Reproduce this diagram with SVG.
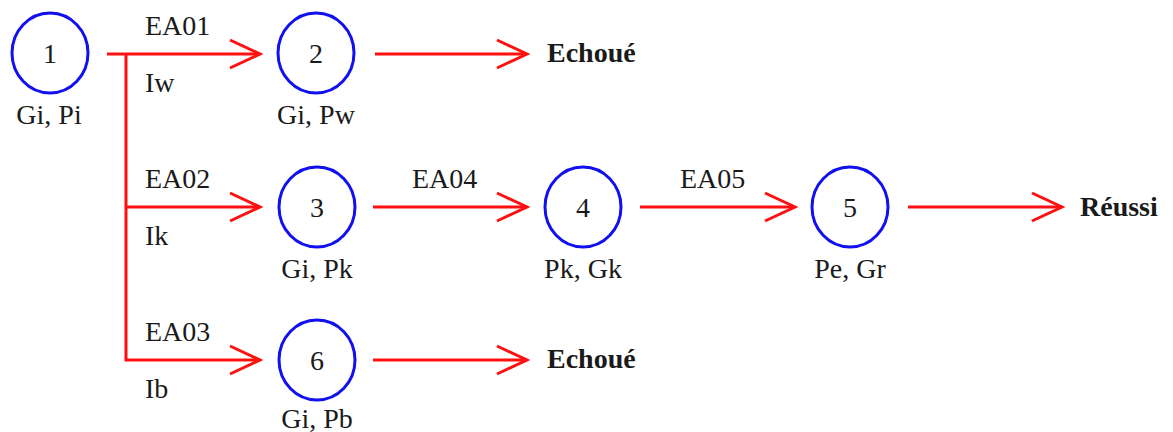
<svg xmlns="http://www.w3.org/2000/svg" width="1173" height="432" viewBox="0 0 1173 432">
<style>
.n{fill:none;stroke:#1010f0;stroke-width:3}
.c{fill:none;stroke:#ff1010;stroke-width:3;stroke-linejoin:miter}
text{font-family:'Liberation Serif','Times New Roman',Times,'DejaVu Serif',serif;font-size:28px;fill:#1a1a1a}
.m{text-anchor:middle}
.b{font-weight:bold;font-size:28px}
</style>
<defs>
<marker id="arr" viewBox="0 0 34 32" refX="31" refY="16" markerWidth="34" markerHeight="32" markerUnits="userSpaceOnUse" orient="auto">
<path d="M1,2 L31,16 L1,30" fill="none" stroke="#ff1010" stroke-width="3"/>
</marker>
</defs>
<rect width="1173" height="432" fill="#fff"/>
<g id="connectors">
<path class="c" d="M107,54 H260" marker-end="url(#arr)"/>
<path class="c" d="M126,54 V360 H260" marker-end="url(#arr)"/>
<path class="c" d="M126,207 H260" marker-end="url(#arr)"/>
<path class="c" d="M375,54 H527" marker-end="url(#arr)"/>
<path class="c" d="M373,207 H527" marker-end="url(#arr)"/>
<path class="c" d="M640,207 H795" marker-end="url(#arr)"/>
<path class="c" d="M908,207 H1062" marker-end="url(#arr)"/>
<path class="c" d="M373,360 H527" marker-end="url(#arr)"/>
<text x="145" y="35">EA01</text>
<text x="145" y="92">Iw</text>
<text x="145" y="188">EA02</text>
<text x="145" y="245">Ik</text>
<text x="145" y="341">EA03</text>
<text x="145" y="398">Ib</text>
<text x="412" y="188">EA04</text>
<text x="680" y="188">EA05</text>
</g>
<g id="node1">
<ellipse class="n" cx="50" cy="53" rx="38" ry="40"/>
<text class="m" x="50" y="63">1</text>
<text class="m" x="49" y="124">Gi, Pi</text>
</g>
<g id="node2">
<ellipse class="n" cx="316" cy="53" rx="38" ry="40"/>
<text class="m" x="316" y="63">2</text>
<text class="m" x="316" y="124">Gi, Pw</text>
</g>
<g id="node3">
<ellipse class="n" cx="317" cy="207" rx="38" ry="40"/>
<text class="m" x="317" y="217">3</text>
<text class="m" x="317" y="278">Gi, Pk</text>
</g>
<g id="node4">
<ellipse class="n" cx="583" cy="207" rx="38" ry="40"/>
<text class="m" x="583" y="217">4</text>
<text class="m" x="583" y="278">Pk, Gk</text>
</g>
<g id="node5">
<ellipse class="n" cx="850" cy="207" rx="38" ry="40"/>
<text class="m" x="850" y="217">5</text>
<text class="m" x="850" y="278">Pe, Gr</text>
</g>
<g id="node6">
<ellipse class="n" cx="317" cy="360" rx="38" ry="40"/>
<text class="m" x="317" y="370">6</text>
<text class="m" x="317" y="428">Gi, Pb</text>
</g>
<g id="echoue1"><text class="b" x="547" y="62">Echoué</text></g>
<g id="reussi"><text class="b" x="1080" y="216">Réussi</text></g>
<g id="echoue2"><text class="b" x="547" y="368">Echoué</text></g>
</svg>
